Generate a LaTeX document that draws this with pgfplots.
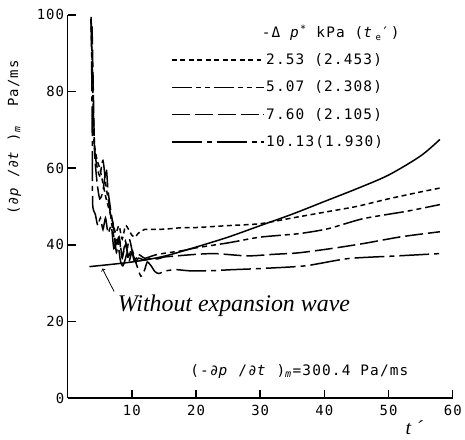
\documentclass[border=0pt]{standalone}
\usepackage{fontspec}
\setmainfont{Liberation Sans}
\newfontfamily\mono[LetterSpace=8]{DejaVu Sans Mono}
\newfontfamily\timesit{Liberation Serif}
\usepackage{pgfplots}
\pgfplotsset{compat=1.18}
\newcommand{\tf}{\mono\fontsize{14}{16}\selectfont}
\newcommand{\lf}{\mono\fontsize{14.5}{17}\selectfont}
\begin{document}
\begin{tikzpicture}
\begin{axis}[
  scale only axis, width=387pt, height=385pt,
  xmin=0, xmax=60, ymin=0, ymax=100,
  axis lines=left,
  axis line style={-, line width=1.5pt},
  xtick={10,20,...,60}, ytick={0,20,...,100},
  tick align=inside, major tick length=8pt,
  tick style={line width=1.5pt, black},
  /pgf/number format/assume math mode=true,
  ticklabel style={font=\tf},
  xticklabel style={yshift=-4pt},
  clip=false,
  legend style={at={(axis cs:16.1,90.2)}, anchor=north west, draw=none, fill=none,
    inner sep=0pt, font=\lf, row sep=13pt, nodes={inner sep=1pt}},
  legend cell align=left,
  legend image code/.code={\draw[#1] (0pt,0pt) -- (93pt,0pt);},
  every axis plot/.append style={line width=1.5pt, black},
]
% -dp* = 2.53 kPa
\addplot[dash pattern=on 5pt off 3.5pt, smooth, tension=0.4] coordinates {
 (3.6,99) (3.8,88) (4.0,75) (4.2,66) (4.6,62) (5.0,60) (5.5,56) (6.0,52) (6.5,49)
 (7,46) (7.5,43) (8,45) (8.5,41.5) (9,45) (9.5,44) (10,42.5) (10.5,42) (11,43)
 (12,44) (14,44) (16,44.2) (18,44.5) (20,44.5) (25,45) (30,45.5) (35,47) (40,48.5)
 (45,50) (50,52) (55,53.8) (58,54.8)};
\addlegendentry{2.53 (2.453)}
% 5.07 kPa
\addplot[dash pattern=on 20pt off 4pt on 5pt off 4pt on 5pt off 4pt, smooth, tension=0.4] coordinates {
 (3.7,98) (3.9,82) (4.1,67) (4.5,61) (5,58) (5.5,62) (6,55) (6.5,50) (7,44) (7.5,40)
 (8,42) (8.5,37) (9,40) (9.5,37) (10,39) (10.5,36) (11,37.5) (12,36.5) (13,37) (14,37.5)
 (16,38) (18,38.5) (20,39.2) (25,40.5) (30,42) (36,42.9) (40.6,44.2) (46,46.8) (53,48.8) (58,50.5)};
\addlegendentry{5.07 (2.308)}
% 7.60 kPa
\addplot[dash pattern=on 18pt off 5pt, smooth, tension=0.4] coordinates {
 (3.8,97) (4.0,80) (4.2,64) (4.6,56) (5,52) (5.5,54) (6,60) (6.3,54) (6.8,48) (7.2,44)
 (7.6,38) (8,42) (8.5,36.5) (9,41) (9.5,35.5) (10,38) (10.5,35) (11,36.5) (12,36) (13,36.5)
 (14,36.3) (15,36.8) (17,37.1) (20,37.5) (23,37.7) (28,37.1) (32,37.5) (36,37.9) (41,39)
 (46,40.3) (52,42.1) (58,43.4)};
\addlegendentry{7.60 (2.105)}
% 10.13 kPa
\addplot[dash pattern=on 30pt off 5pt on 5pt off 5pt, smooth, tension=0.4] coordinates {
 (3.65,99.5) (3.75,85) (3.85,65) (3.9,50.5) (4.3,48) (4.7,45) (5.1,47) (5.5,44) (5.9,47)
 (6.3,43) (6.8,45) (7.2,39) (7.7,42) (8.2,36) (8.6,34.5) (9.1,37) (9.6,41.5) (10.1,38)
 (10.6,35.5) (11.4,31.8) (12,33.5) (12.4,35.5) (13,34.5) (13.6,33) (14.2,32.5) (15.3,33.2)
 (17,33.5) (19,33.2) (22,33.2) (25.6,33.5) (30,33.8) (37,34.5) (43.7,36.4) (51.4,37.1) (58,37.7)};
\addlegendentry{10.13(1.930)}
% without expansion wave
\addplot[solid, smooth, tension=0.5, forget plot] coordinates {
 (3.4,34.3) (10,35.5) (15,37) (20,39.4) (25,42) (30,45) (35,48) (40,51.3) (45,54.6)
 (50,58.2) (55,63.2) (58,67.5)};

\coordinate (o) at (axis cs:0,0);
\node[font=\lf, anchor=west] at (axis cs:29.7,95.3)
  {-Δ \textit{p}\textsuperscript{*} kPa (\textit{t}\,{\fontsize{9}{10}\selectfont\raisebox{-3pt}{e}}′)};
\node[font=\timesit\itshape\fontsize{24}{26}\selectfont] at (axis cs:25.9,24.2) {Without expansion wave};
\draw[->, line width=0.8pt] (axis cs:7.24,27.8) -- (axis cs:5.4,33.8);
\node[font=\lf] at (axis cs:36.1,7.0)
  {(-∂\textit{p} /∂\textit{t} )\textsubscript{\textit{m}}=300.4 Pa/ms};
\node[font=\timesit\itshape\fontsize{20}{22}\selectfont] at (axis cs:54,-7.8) {t ´};
\node[font=\tf, rotate=90] at (axis cs:-8.3,68)
  {(∂\textit{p} /∂\textit{t} )\textsubscript{\textit{m}}\ \ Pa/ms};
\end{axis}
\path (o) +(-68pt,-42pt) +(397pt,400pt);
\end{tikzpicture}
\end{document}
